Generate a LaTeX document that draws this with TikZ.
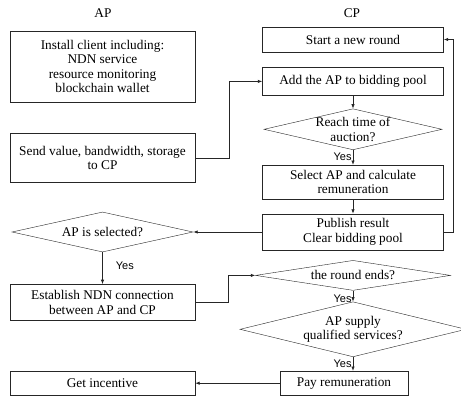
\documentclass[tikz,border=0pt]{standalone}
\usepackage{fontspec}
\setmainfont{Liberation Serif}
\setsansfont{Liberation Sans}
\usetikzlibrary{arrows.meta,positioning,shapes.geometric}

\begin{document}
\begin{tikzpicture}[x=1pt,y=-1pt,
  every node/.style={font=\fontsize{13.3}{14.5}\selectfont,align=center},
  box/.style={draw=black!85,rectangle,inner sep=0pt},
  dia/.style={draw=black!85,diamond,inner sep=0pt},
  yes/.style={font=\sffamily\fontsize{11}{12}\selectfont,inner sep=1pt},
  arr/.style={-{Latex[length=4.5pt,width=3.5pt]},line width=0.8pt,draw=black!85}]
\useasboundingbox (0,0) rectangle (461,396);
\node (aphead) at (103,13) {AP};
\node (cphead) at (352,13) {CP};
% AP side
\node[box,minimum width=185pt,minimum height=71pt] (install) at (102.5,66.5) {Install client including:\\NDN service\\resource monitoring\\blockchain wallet};
\node[box,minimum width=185pt,minimum height=49pt,below=31pt of install] (send) {Send value, bandwidth, storage\\to CP};
\node[dia,minimum width=181pt,minimum height=40pt,label=center:{AP is selected?}] (apsel) at (102.5,232) {};
\node[box,minimum width=185pt,minimum height=36pt,below=32pt of apsel] (establish) {Establish NDN connection\\between AP and CP};
% CP side
\node[box,minimum width=181pt,minimum height=25pt] (start) at (353,39.5) {Start a new round};
\node[box,minimum width=181pt,minimum height=28pt,below=15pt of start] (add) {Add the AP to bidding pool};
\node[dia,minimum width=178pt,minimum height=41pt,below=13pt of add,label=center:{Reach time of\\auction?}] (reach) {};
\node[box,minimum width=181pt,minimum height=34pt,below=15pt of reach] (select) {Select AP and calculate\\remuneration};
\node[box,minimum width=181pt,minimum height=36pt] (publish) at (353,232) {Publish result\\Clear bidding pool};
\node[dia,minimum width=195pt,minimum height=30pt,below=10pt of publish,label=center:{the round ends?}] (ends) {};
\node[dia,minimum width=226pt,minimum height=55pt,below=11pt of ends,label=center:{AP supply\\qualified services?}] (supply) {};
\node[box,minimum width=128pt,minimum height=24pt,below=14pt of supply,xshift=-9pt] (pay) {Pay remuneration};
\node[box,minimum width=185pt,minimum height=24pt] (incentive) at (install |- pay) {Get incentive};
% connectors
\draw[arr] (send.east) -- ++(34pt,0) |- (add.west);
\draw[arr] (add) -- (reach);
\draw[arr] (reach) -- node[yes,left,pos=0.45]{Yes} (select);
\draw[arr] (select) -- (publish);
\draw[arr] (publish.east) -- ++(10pt,0) |- (start.east);
\draw[arr] (publish) -- (apsel);
\draw[arr] (apsel) -- node[yes,right=12pt,pos=0.42]{Yes} (establish);
\draw[arr] (establish.east) -- ++(33pt,0) |- (ends.west);
\draw[arr] (ends) -- node[yes,left,pos=0.7]{Yes} (supply);
\draw[arr] (supply.south) -- node[yes,left,pos=0.5]{Yes} (supply.south |- pay.north);
\draw[arr] (pay) -- (incentive);
\end{tikzpicture}
\end{document}
